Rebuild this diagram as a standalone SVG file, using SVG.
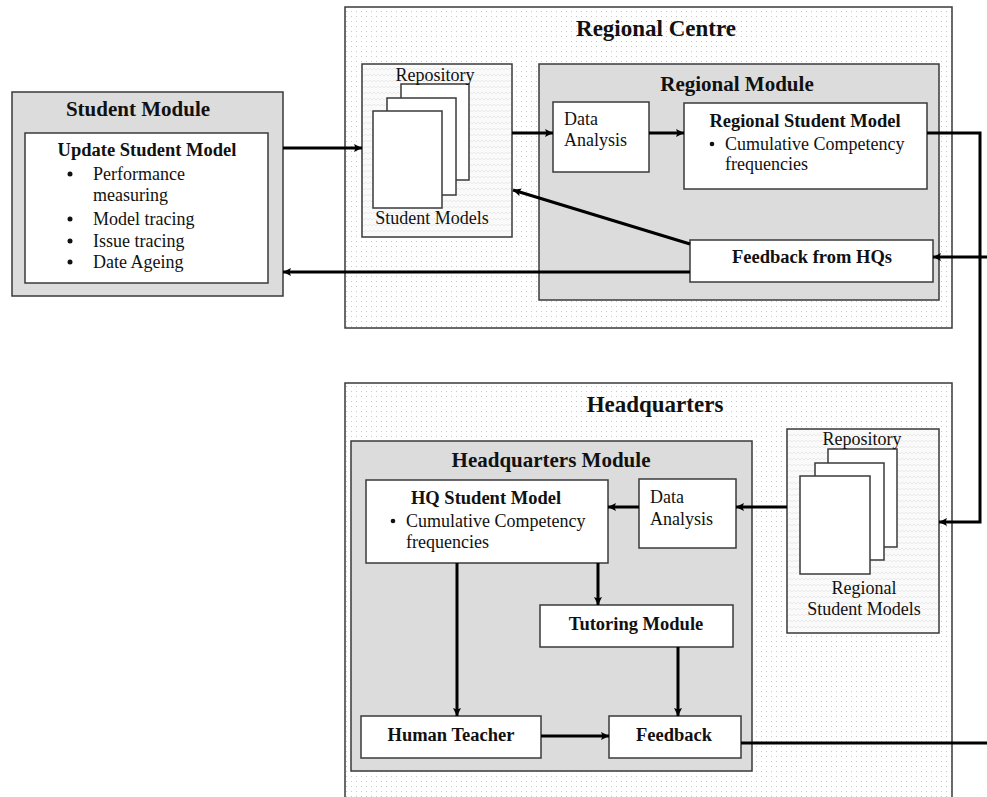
<svg xmlns="http://www.w3.org/2000/svg" width="987" height="797" viewBox="0 0 987 797">
<style>
.box{stroke:#3a3a3a;stroke-width:1.5}
.dots{fill:url(#dots)}
.gray{fill:#dcdcdc}
.white{fill:#ffffff}
.wave{fill:url(#wave)}
.t{font-family:"Liberation Serif","Times New Roman",serif;fill:#111}
.big{font-size:23px;font-weight:bold;text-anchor:middle}
.mod{font-size:21px;font-weight:bold;text-anchor:middle}
.hd{font-size:18.5px;font-weight:bold;text-anchor:middle}
.rg{font-size:18px}
.mid{text-anchor:middle}
.conn{fill:none;stroke:#000;stroke-width:3}
</style>
<defs>
<pattern id="dots" width="5" height="5" patternUnits="userSpaceOnUse">
<rect width="5" height="5" fill="#ffffff"/>
<rect x="1" y="1" width="1" height="1" fill="#c8c8c8"/>
</pattern>
<pattern id="wave" width="8" height="6" patternUnits="userSpaceOnUse">
<rect width="8" height="6" fill="#fafafa"/>
<path d="M0 4 L2 2 L4 4 L6 2 L8 4" fill="none" stroke="#e6e6e6" stroke-width="0.8"/>
</pattern>
<marker id="arr" viewBox="0 0 10 10" refX="10" refY="5" markerWidth="10" markerHeight="8" markerUnits="userSpaceOnUse" orient="auto">
<path d="M0 0 L10 5 L0 10 L2 5 Z" fill="#000"/>
</marker>
</defs>
<rect width="987" height="797" fill="#ffffff"/>

<g id="regional-centre">
<rect class="box dots" x="345" y="7" width="607" height="321"/>
<text class="t big" x="656" y="36">Regional Centre</text>
</g>
<g id="headquarters">
<rect class="box dots" x="345" y="383" width="607" height="420"/>
<text class="t big" x="655" y="412">Headquarters</text>
</g>

<g id="student-module">
<rect class="box gray" x="12" y="92" width="271" height="204"/>
<text class="t mod" x="138" y="116">Student Module</text>
<rect class="box white" x="25" y="133" width="243" height="150"/>
<text class="t hd" x="147" y="156">Update Student Model</text>
<g class="t rg">
<circle cx="70" cy="174" r="2.5" fill="#111"/>
<text x="93" y="180">Performance</text>
<text x="93" y="201">measuring</text>
<circle cx="70" cy="219" r="2.5" fill="#111"/>
<text x="93" y="225">Model tracing</text>
<circle cx="70" cy="241" r="2.5" fill="#111"/>
<text x="93" y="247">Issue tracing</text>
<circle cx="70" cy="262" r="2.5" fill="#111"/>
<text x="93" y="268">Date Ageing</text>
</g>
</g>

<g id="repository-regional">
<rect class="box wave" x="362" y="64" width="150" height="173"/>
<rect class="box white" x="401" y="84" width="68" height="96"/>
<rect class="box white" x="387" y="98" width="69" height="97"/>
<rect class="box white" x="373" y="111" width="69" height="97"/>
<text class="t rg mid" x="435" y="81">Repository</text>
<text class="t rg mid" x="432" y="224">Student Models</text>
</g>

<g id="regional-module">
<rect class="box gray" x="539" y="64" width="400" height="236"/>
<text class="t mod" x="737" y="91">Regional Module</text>
</g>

<g id="regional-data-analysis">
<rect class="box white" x="553" y="102" width="96" height="70"/>
<text class="t rg" x="564" y="125">Data</text>
<text class="t rg" x="564" y="146">Analysis</text>
</g>

<g id="regional-student-model">
<rect class="box white" x="684" y="103" width="243" height="86"/>
<text class="t hd" x="805" y="127">Regional Student Model</text>
<circle cx="712" cy="144" r="2.3" fill="#111"/>
<text class="t rg" x="725" y="150">Cumulative Competency</text>
<text class="t rg" x="725" y="170">frequencies</text>
</g>

<g id="feedback-from-hqs">
<rect class="box white" x="690" y="240" width="243" height="42"/>
<text class="t hd" x="812" y="263">Feedback from HQs</text>
</g>

<g id="headquarters-module">
<rect class="box gray" x="351" y="441" width="401" height="330"/>
<text class="t mod" x="551" y="467">Headquarters Module</text>
</g>

<g id="hq-student-model">
<rect class="box white" x="366" y="480" width="242" height="83"/>
<text class="t hd" x="486" y="504">HQ Student Model</text>
<circle cx="393" cy="521" r="2.3" fill="#111"/>
<text class="t rg" x="406" y="527">Cumulative Competency</text>
<text class="t rg" x="406" y="548">frequencies</text>
</g>

<g id="hq-data-analysis">
<rect class="box white" x="639" y="479" width="97" height="69"/>
<text class="t rg" x="650" y="503">Data</text>
<text class="t rg" x="650" y="525">Analysis</text>
</g>

<g id="repository-hq">
<rect class="box wave" x="787" y="429" width="152" height="204"/>
<rect class="box white" x="828" y="449" width="69" height="98"/>
<rect class="box white" x="815" y="463" width="69" height="97"/>
<rect class="box white" x="800" y="476" width="70" height="98"/>
<text class="t rg mid" x="862" y="445">Repository</text>
<text class="t rg mid" x="864" y="594">Regional</text>
<text class="t rg mid" x="864" y="615">Student Models</text>
</g>

<g id="tutoring-module">
<rect class="box white" x="540" y="605" width="193" height="42"/>
<text class="t hd" x="636" y="630">Tutoring Module</text>
</g>

<g id="human-teacher">
<rect class="box white" x="361" y="716" width="180" height="42"/>
<text class="t hd" x="451" y="741">Human Teacher</text>
</g>

<g id="feedback">
<rect class="box white" x="609" y="716" width="132" height="42"/>
<text class="t hd" x="674" y="741">Feedback</text>
</g>

<g id="connectors">
<line class="conn" x1="283" y1="148" x2="362" y2="148" marker-end="url(#arr)"/>
<line class="conn" x1="512" y1="133" x2="553" y2="133" marker-end="url(#arr)"/>
<line class="conn" x1="649" y1="133" x2="684" y2="133" marker-end="url(#arr)"/>
<polyline class="conn" points="927,133 980,133 980,522 939,522" marker-end="url(#arr)"/>
<line class="conn" x1="987" y1="257" x2="933" y2="257" marker-end="url(#arr)"/>
<line class="conn" x1="690" y1="244" x2="513" y2="190" marker-end="url(#arr)"/>
<line class="conn" x1="690" y1="272" x2="283" y2="272" marker-end="url(#arr)"/>
<line class="conn" x1="787" y1="507" x2="736" y2="507" marker-end="url(#arr)"/>
<line class="conn" x1="639" y1="507" x2="608" y2="507" marker-end="url(#arr)"/>
<line class="conn" x1="598" y1="563" x2="598" y2="605" marker-end="url(#arr)"/>
<line class="conn" x1="457" y1="563" x2="457" y2="716" marker-end="url(#arr)"/>
<line class="conn" x1="678" y1="647" x2="678" y2="716" marker-end="url(#arr)"/>
<line class="conn" x1="541" y1="736" x2="609" y2="736" marker-end="url(#arr)"/>
<line class="conn" x1="741" y1="743" x2="987" y2="743"/>
</g>
</svg>
